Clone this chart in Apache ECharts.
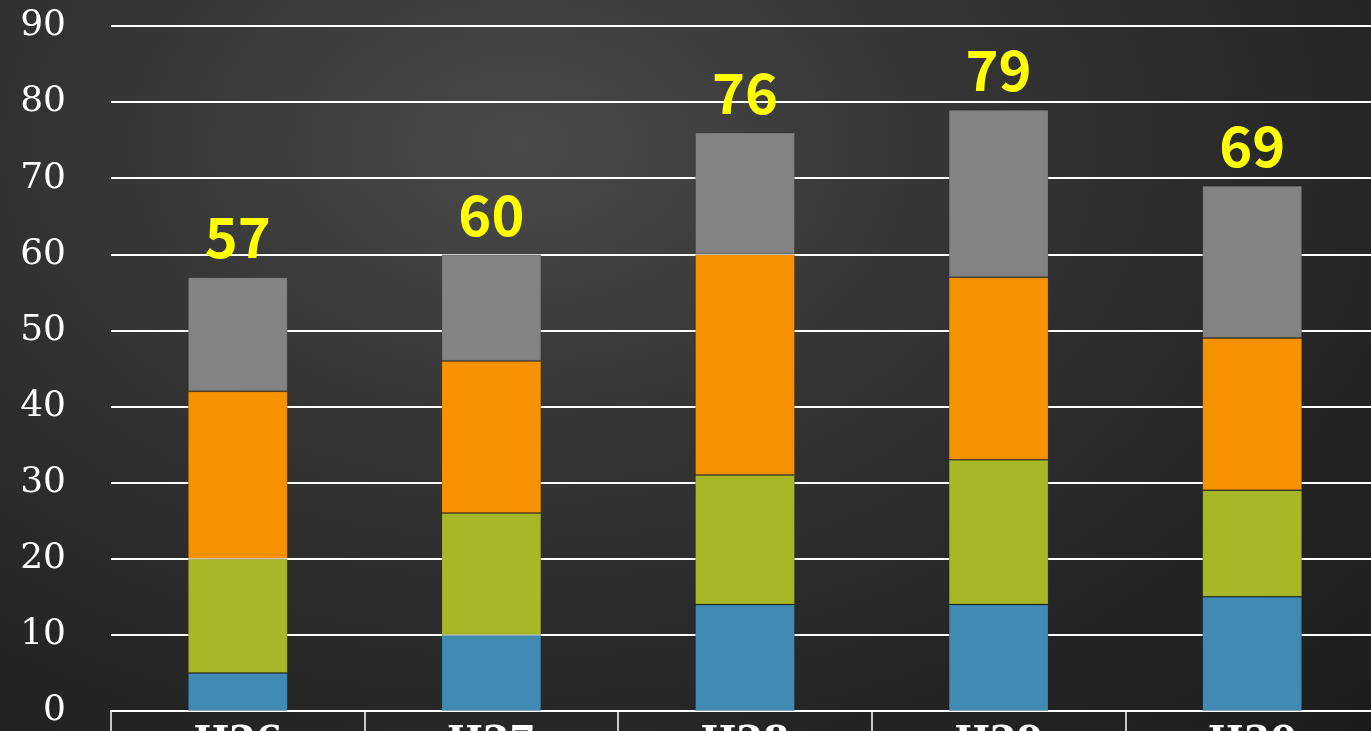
<!DOCTYPE html>
<html>
<head>
<meta charset="utf-8">
<script src="https://cdn.jsdelivr.net/npm/echarts@6/dist/echarts.min.js"></script>
<style>
html,body{margin:0;padding:0;width:1371px;height:731px;overflow:hidden;}
body{background:radial-gradient(ellipse at 38% 20%, #4a4a4a 0%, #353535 35%, #262626 70%, #1c1c1c 100%);}
#c{width:1371px;height:731px;}
</style>
</head>
<body>
<div id="c"></div>
<script>
var categories = ['H26', 'H27', 'H28', 'H29', 'H30'];
var seriesBlue = [5, 10, 14, 14, 15];
var seriesGreen = [15, 16, 17, 19, 14];
var seriesOrange = [22, 20, 29, 24, 20];
var seriesGray = [15, 14, 16, 22, 20];
var yTicks = [0, 10, 20, 30, 40, 50, 60, 70, 80, 90];

var totals = categories.map(function (_, i) {
  return seriesBlue[i] + seriesGreen[i] + seriesOrange[i] + seriesGray[i];
});

var chart = echarts.init(document.getElementById('c'), null, {renderer: 'canvas'});
var barW = '39.4%';
function mk(name, data, color, withLabel) {
  var s = {
    name: name, type: 'bar', stack: 'total', data: data, barWidth: barW,
    itemStyle: {color: color, borderColor: 'rgba(0,0,0,0.15)', borderWidth: 1},
    emphasis: {disabled: true}
  };
  if (withLabel) {
    s.label = {
      show: true, position: 'top', distance: 12,
      formatter: function (p) { return totals[p.dataIndex]; },
      color: '#FFFF00', fontSize: 56, fontWeight: 'bold',
      fontFamily: '"Noto Sans CJK JP", "Noto Sans", sans-serif'
    };
  }
  return s;
}
chart.setOption({
  backgroundColor: 'transparent',
  animation: false,
  grid: {left: 111, right: -8, top: 26, bottom: 20, containLabel: false, outerBoundsMode: 'none'},
  xAxis: {
    type: 'category', data: categories,
    axisLine: {show: true, lineStyle: {color: '#ffffff', width: 2}},
    axisTick: {show: true, length: 30, lineStyle: {color: '#ffffff', width: 1.5}},
    axisLabel: {color: '#ffffff', fontSize: 38, fontWeight: 'bold', margin: 12,
      fontFamily: '"DejaVu Serif", serif'}
  },
  yAxis: {
    type: 'value', min: 0, max: 90, interval: 10,
    axisLine: {show: false}, axisTick: {show: false},
    splitLine: {show: true, lineStyle: {color: '#ffffff', width: 2}},
    axisLabel: {color: '#ffffff', fontSize: 36, margin: 45,
      fontFamily: '"DejaVu Serif", serif',
      formatter: function (v) { return yTicks.indexOf(v) >= 0 ? String(v) : ''; }}
  },
  series: [
    mk('blue', seriesBlue, '#418AB3', false),
    mk('green', seriesGreen, '#A6B727', false),
    mk('orange', seriesOrange, '#F69200', false),
    mk('gray', seriesGray, '#838383', true)
  ]
});
</script>
</body>
</html>
